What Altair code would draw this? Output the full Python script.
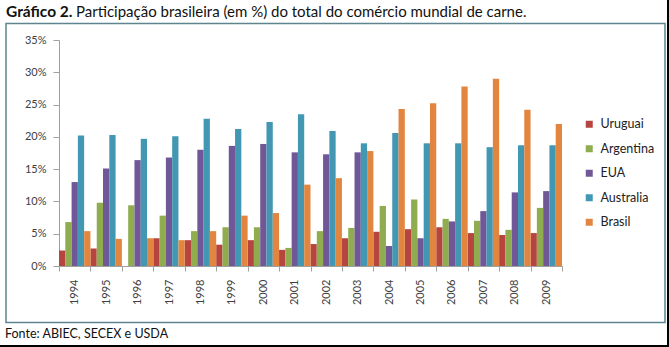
import altair as alt
import pandas as pd

years = [str(y) for y in range(1994, 2010)]
series = ["Uruguai", "Argentina", "EUA", "Australia", "Brasil"]
colors = ["#B6443F", "#8FAD4F", "#705898", "#4298B2", "#E2863F"]
uruguai = [2.4, 2.7, 0.0, 4.3, 4.0, 3.3, 4.0, 2.5, 3.4, 4.3, 5.3, 5.7, 6.0, 5.1, 4.8, 5.1]
argentina = [6.8, 9.8, 9.4, 7.8, 5.4, 6.0, 6.0, 2.8, 5.4, 5.9, 9.3, 10.3, 7.3, 7.0, 5.6, 9.0]
eua = [13.0, 15.1, 16.4, 16.8, 18.0, 18.6, 18.9, 17.6, 17.3, 17.6, 3.1, 4.3, 6.9, 8.5, 11.4, 11.6]
australia = [20.2, 20.3, 19.7, 20.1, 22.8, 21.2, 22.3, 23.5, 20.9, 19.0, 20.6, 19.0, 19.0, 18.4, 18.7, 18.7]
brasil = [5.4, 4.2, 4.3, 4.0, 5.4, 7.8, 8.2, 12.6, 13.6, 17.8, 24.3, 25.2, 27.8, 29.0, 24.2, 22.0]
y_ticks = [0, 5, 10, 15, 20, 25, 30, 35]

title_bold = "Gráfico 2."
title_rest = "Participação brasileira (em %) do total do comércio mundial de carne."
source = "Fonte: ABIEC, SECEX e USDA"

rows = []
for name, vals in zip(series, [uruguai, argentina, eua, australia, brasil]):
    for yr, v in zip(years, vals):
        rows.append({"ano": yr, "pais": name, "valor": v})
df = pd.DataFrame(rows)

FONT = "Lato"
W, H = 503, 226

bars = alt.Chart(df).mark_bar(size=6.28).encode(
    x=alt.X("ano:N", title=None,
            scale=alt.Scale(paddingInner=0, paddingOuter=0),
            axis=alt.Axis(labelAngle=270, labelAlign="right", labelBaseline="middle",
                          labelFont=FONT, labelFontSize=11, labelColor="#404040",
                          labelPadding=8, tickBand="extent", tickSize=5,
                          tickColor="#a0a0a0", domainColor="#a0a0a0", grid=False)),
    xOffset=alt.XOffset("pais:N", sort=series,
                        scale=alt.Scale(paddingInner=0, paddingOuter=0)),
    y=alt.Y("valor:Q", title=None,
            scale=alt.Scale(domain=[0, 35], nice=False),
            axis=alt.Axis(values=y_ticks, labelExpr="datum.value + '%'",
                          labelFont=FONT, labelFontSize=11, labelColor="#404040",
                          labelPadding=7, tickSize=6, tickColor="#a0a0a0",
                          domainColor="#a0a0a0", grid=False)),
    color=alt.Color("pais:N", sort=series,
                    scale=alt.Scale(domain=series, range=colors),
                    legend=alt.Legend(title=None, orient="none", legendX=524, legendY=78,
                                      symbolType="square", symbolSize=49,
                                      symbolStrokeWidth=0,
                                      labelFont=FONT, labelFontSize=12.5,
                                      labelColor="#222222", rowPadding=11.5,
                                      labelOffset=5, padding=0)),
)

one = alt.Data(values=[{}])

frame = alt.Chart(one).mark_rect(fillOpacity=0, stroke="#5e8490", strokeWidth=1.5).encode(
    x=alt.value(-53), x2=alt.value(606), y=alt.value(-16.5), y2=alt.value(282.5))

edge_r = alt.Chart(one).mark_rule(color="#000000", strokeWidth=2).encode(
    x=alt.value(609), y=alt.value(-40), y2=alt.value(307))
edge_b = alt.Chart(one).mark_rule(color="#000000", strokeWidth=2).encode(
    x=alt.value(-59), x2=alt.value(610), y=alt.value(306))

t1 = alt.Chart(one).mark_text(text=title_bold, font=FONT, fontSize=15.5, fontWeight="bold",
                              align="left", baseline="alphabetic", color="#111111").encode(
    x=alt.value(-53), y=alt.value(-23))
t2 = alt.Chart(one).mark_text(text=title_rest, font=FONT, fontSize=15,
                              align="left", baseline="alphabetic", color="#111111").encode(
    x=alt.value(17), y=alt.value(-23))
src = alt.Chart(one).mark_text(text=source, font=FONT, fontSize=12.5,
                               align="left", baseline="alphabetic", color="#111111").encode(
    x=alt.value(-54), y=alt.value(298))

chart = alt.layer(frame, bars, edge_r, edge_b, t1, t2, src).properties(
    width=W, height=H,
    autosize=alt.AutoSizeParams(type="none"),
    padding={"left": 59, "top": 40, "right": 107, "bottom": 81},
    background="white",
).configure_view(stroke=None)

chart.save("out.html", embed_options={"renderer": "svg", "actions": False})
